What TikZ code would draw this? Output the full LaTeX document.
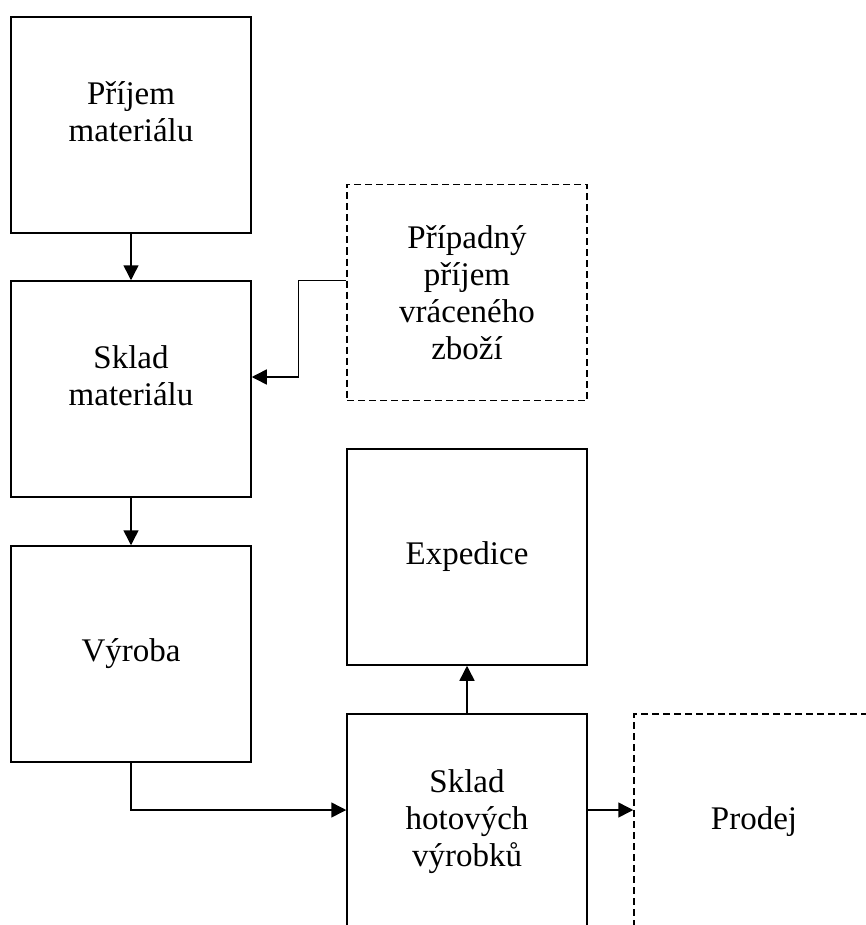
\documentclass[tikz,border=0pt]{standalone}
\usepackage{fontspec}
\setmainfont{Liberation Serif}
\usepackage{tikz}
\usetikzlibrary{arrows.meta, positioning, calc}

\begin{document}
\begin{tikzpicture}[
  x=1pt, y=-1pt,
  box/.style={draw, line width=1.5pt, minimum width=240pt, minimum height=216pt, align=center, font=\fontsize{33}{37}\selectfont},
  dashbox/.style={box, dash pattern=on 7pt off 4pt},
  lifted/.style={text depth=27pt},
  arr/.style={line width=1.5pt, -{Triangle[length=15pt, width=15pt]}},
]
  \useasboundingbox (0,0) rectangle (866,925);
  \clip (0,0) rectangle (866,925);
  \node[box, lifted] (prijem) at (131,125) {Příjem\\materiálu};
  \node[box, lifted] (skladmat) at (131,389) {Sklad\\materiálu};
  \node[box] (vyroba) at (131,654) {Výroba};
  \node[dashbox] (vraceni) at (467,292.5) {Případný\\příjem\\vráceného\\zboží};
  \node[box] (expedice) at (467,557) {Expedice};
  \node[box] (skladhot) at (467,822) {Sklad\\hotových\\výrobků};
  \node[dashbox] (prodej) at (754,822) {Prodej};

  \draw[arr] (prijem) -- (skladmat);
  \draw[arr] (skladmat) -- (vyroba);
  \draw[arr] ([yshift=12pt]vraceni.west) -- ++(-48,0) |- ([yshift=12pt]skladmat.east);
  \draw[arr] (vyroba.south) |- ([yshift=12pt]skladhot.west);
  \draw[arr] (skladhot) -- (expedice);
  \draw[arr] ([yshift=12pt]skladhot.east) -- ([yshift=12pt]prodej.west);
\end{tikzpicture}
\end{document}
